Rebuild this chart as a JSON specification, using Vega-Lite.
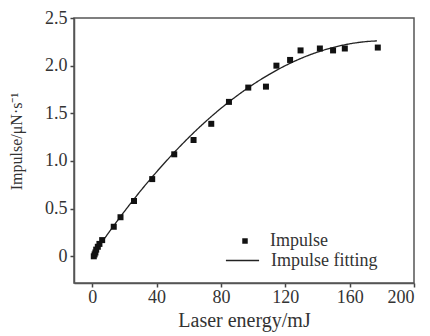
{
  "$schema": "https://vega.github.io/schema/vega-lite/v6.json",
  "width": 340,
  "height": 265,
  "autosize": {"type": "none"},
  "padding": {"left": 74, "top": 18, "right": 16, "bottom": 53},
  "background": "white",
  "config": {
    "font": "Liberation Serif",
    "view": {"stroke": "#555", "strokeWidth": 1.5},
    "axis": {
      "grid": false,
      "ticks": true,
      "domainColor": "#555",
      "domainWidth": 1.5,
      "tickColor": "#444",
      "tickSize": 4,
      "tickWidth": 1.5,
      "labelFont": "Liberation Serif",
      "labelFontSize": 18,
      "labelColor": "#333",
      "titleFont": "Liberation Serif",
      "titleFontSize": 20,
      "titleFontWeight": "normal",
      "titleColor": "#333"
    }
  },
  "datasets": {
    "impulse": [
      {"energy": 1.0, "impulse": 0.0},
      {"energy": 1.5, "impulse": 0.02},
      {"energy": 2.0, "impulse": 0.04},
      {"energy": 2.5, "impulse": 0.07},
      {"energy": 3.5, "impulse": 0.10},
      {"energy": 4.5, "impulse": 0.13},
      {"energy": 6.2, "impulse": 0.17},
      {"energy": 13.4, "impulse": 0.31},
      {"energy": 17.6, "impulse": 0.41},
      {"energy": 26.0, "impulse": 0.58},
      {"energy": 37.3, "impulse": 0.81},
      {"energy": 51.0, "impulse": 1.07},
      {"energy": 63.0, "impulse": 1.22},
      {"energy": 74.0, "impulse": 1.39},
      {"energy": 85.0, "impulse": 1.62},
      {"energy": 97.0, "impulse": 1.77},
      {"energy": 108.0, "impulse": 1.78},
      {"energy": 114.5, "impulse": 2.0},
      {"energy": 123.0, "impulse": 2.06},
      {"energy": 129.5, "impulse": 2.16},
      {"energy": 141.5, "impulse": 2.18},
      {"energy": 149.7, "impulse": 2.16},
      {"energy": 157.0, "impulse": 2.18},
      {"energy": 177.5, "impulse": 2.19}
    ],
    "fit": [
      {"energy": 0, "impulse": 0.0},
      {"energy": 5, "impulse": 0.123},
      {"energy": 10, "impulse": 0.242},
      {"energy": 20, "impulse": 0.470},
      {"energy": 30, "impulse": 0.685},
      {"energy": 40, "impulse": 0.885},
      {"energy": 50, "impulse": 1.072},
      {"energy": 60, "impulse": 1.246},
      {"energy": 70, "impulse": 1.406},
      {"energy": 80, "impulse": 1.552},
      {"energy": 90, "impulse": 1.684},
      {"energy": 100, "impulse": 1.803},
      {"energy": 110, "impulse": 1.908},
      {"energy": 120, "impulse": 2.000},
      {"energy": 130, "impulse": 2.078},
      {"energy": 140, "impulse": 2.142},
      {"energy": 150, "impulse": 2.192},
      {"energy": 160, "impulse": 2.229},
      {"energy": 170, "impulse": 2.252},
      {"energy": 177, "impulse": 2.260}
    ]
  },
  "layer": [
    {
      "data": {"name": "fit"},
      "mark": {"type": "line", "color": "#222", "strokeWidth": 1.3, "interpolate": "monotone"},
      "encoding": {
        "x": {"field": "energy", "type": "quantitative"},
        "y": {"field": "impulse", "type": "quantitative"},
        "strokeDash": {
          "datum": "Impulse fitting",
          "type": "nominal",
          "scale": {"domain": ["Impulse fitting"], "range": [[1, 0]]},
          "legend": {
            "title": null,
            "orient": "none",
            "legendX": 151,
            "legendY": 225,
            "symbolType": "stroke",
            "symbolSize": 1100,
            "symbolStrokeColor": "#222",
            "symbolStrokeWidth": 1.3,
            "labelFont": "Liberation Serif",
            "labelFontSize": 18,
            "labelColor": "#333",
            "labelOffset": 11
          }
        }
      }
    },
    {
      "data": {"name": "impulse"},
      "mark": {"type": "point", "shape": "square", "filled": true, "color": "#111", "opacity": 1, "size": 36},
      "encoding": {
        "x": {
          "field": "energy",
          "type": "quantitative",
          "scale": {"domain": [-11.3, 200], "nice": false, "zero": false},
          "axis": {
            "values": [0, 40, 80, 120, 160, 200],
            "ticks": true,
            "title": "Laser energy/mJ",
            "labelPadding": 1,
            "titlePadding": 4
          }
        },
        "y": {
          "field": "impulse",
          "type": "quantitative",
          "scale": {"domain": [-0.28, 2.5], "nice": false, "zero": false},
          "axis": {
            "values": [0, 0.5, 1.0, 1.5, 2.0, 2.5],
            "ticks": true,
            "labelExpr": "datum.value == 0 ? '0' : format(datum.value, '.1f')",
            "title": "Impulse/μN·s⁻¹",
            "titleFontSize": 16,
            "labelPadding": 3,
            "titleX": -50,
            "titleY": 123
          }
        },
        "shape": {
          "datum": "Impulse",
          "type": "nominal",
          "scale": {"domain": ["Impulse"], "range": ["square"]},
          "legend": {
            "title": null,
            "orient": "none",
            "legendX": 162,
            "legendY": 214,
            "symbolSize": 30,
            "symbolFillColor": "#111",
            "symbolStrokeWidth": 0,
            "labelFont": "Liberation Serif",
            "labelFontSize": 18,
            "labelColor": "#333",
            "labelOffset": 16
          }
        }
      }
    }
  ]
}
